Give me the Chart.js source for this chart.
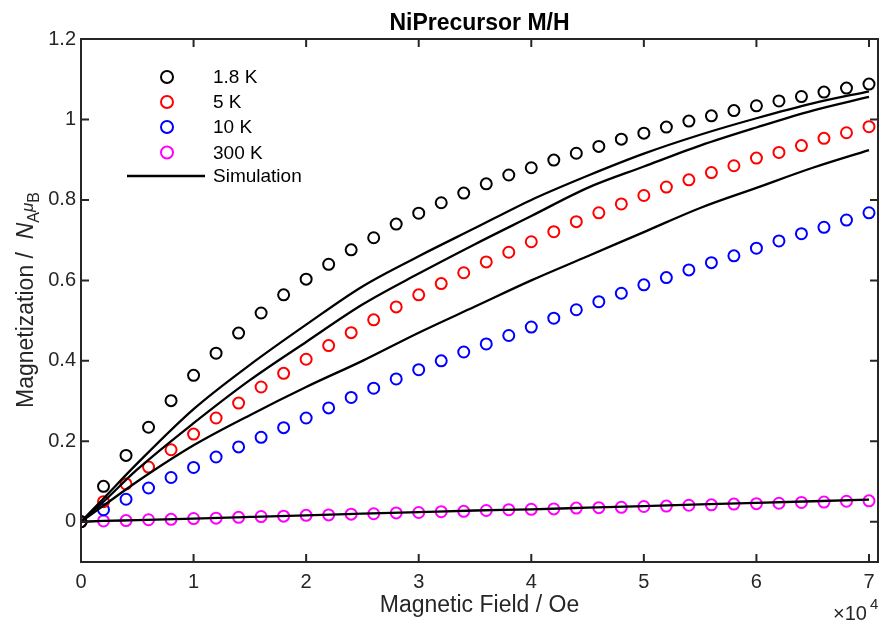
<!DOCTYPE html>
<html>
<head>
<meta charset="utf-8">
<script src="https://cdn.jsdelivr.net/npm/chart.js@4.4.1/dist/chart.umd.min.js"></script>
<style>
  html, body { margin: 0; padding: 0; background: #fff; }
  #wrap { width: 882px; height: 621px; }
</style>
</head>
<body>
<div id="wrap"><canvas id="mh" width="882" height="621"></canvas></div>
<script>
// measured field points (Oe)
const fieldOe = [0, 2000, 4000, 6000, 8000, 10000, 12000, 14000, 16000, 18000,
  20000, 22000, 24000, 26000, 28000, 30000, 32000, 34000, 36000, 38000,
  40000, 42000, 44000, 46000, 48000, 50000, 52000, 54000, 56000, 58000,
  60000, 62000, 64000, 66000, 68000, 70000];

// magnetization (N_A muB)
const m18K = [0, 0.088, 0.165, 0.235, 0.301, 0.364, 0.419, 0.469, 0.519, 0.564,
  0.603, 0.640, 0.676, 0.706, 0.740, 0.767, 0.793, 0.817, 0.840, 0.862,
  0.880, 0.899, 0.916, 0.933, 0.951, 0.966, 0.981, 0.996, 1.009, 1.022,
  1.034, 1.046, 1.057, 1.068, 1.078, 1.088];
const m5K = [0, 0.050, 0.094, 0.136, 0.179, 0.218, 0.258, 0.295, 0.335, 0.369,
  0.404, 0.438, 0.470, 0.502, 0.534, 0.564, 0.592, 0.619, 0.646, 0.670,
  0.696, 0.721, 0.746, 0.768, 0.790, 0.811, 0.832, 0.850, 0.868, 0.885,
  0.904, 0.918, 0.935, 0.953, 0.967, 0.982];
const m10K = [0, 0.030, 0.056, 0.084, 0.110, 0.135, 0.161, 0.186, 0.210, 0.234,
  0.258, 0.283, 0.309, 0.332, 0.355, 0.378, 0.400, 0.422, 0.442, 0.463,
  0.484, 0.506, 0.527, 0.547, 0.568, 0.589, 0.607, 0.626, 0.644, 0.661,
  0.680, 0.698, 0.716, 0.732, 0.750, 0.768];
const m300K = [0, 0.002, 0.003, 0.005, 0.006, 0.008, 0.009, 0.011, 0.013, 0.014,
  0.016, 0.017, 0.019, 0.020, 0.022, 0.023, 0.025, 0.026, 0.028, 0.030,
  0.031, 0.032, 0.034, 0.035, 0.036, 0.038, 0.039, 0.041, 0.042, 0.044,
  0.045, 0.046, 0.048, 0.049, 0.051, 0.052];

// simulation curves
const simField = [0, 2000, 5000, 10000, 15000, 20000, 25000, 30000, 35000,
  40000, 45000, 50000, 55000, 60000, 65000, 70000];
const sim18K = [0, 0.058, 0.145, 0.280, 0.390, 0.490, 0.585, 0.660, 0.730,
  0.800, 0.860, 0.915, 0.962, 1.003, 1.040, 1.070];
const sim5K = [0, 0.050, 0.130, 0.245, 0.352, 0.447, 0.540, 0.617, 0.690,
  0.760, 0.830, 0.883, 0.935, 0.980, 1.022, 1.056];
const sim10K = [0, 0.040, 0.100, 0.190, 0.265, 0.335, 0.400, 0.470, 0.535,
  0.600, 0.660, 0.720, 0.780, 0.830, 0.880, 0.924];
const sim300K = [0, 0.002, 0.004, 0.008, 0.012, 0.016, 0.020, 0.024, 0.028,
  0.031, 0.035, 0.039, 0.043, 0.047, 0.051, 0.055];

const xTicks = [0, 10000, 20000, 30000, 40000, 50000, 60000, 70000];
const yTicks = [0, 0.2, 0.4, 0.6, 0.8, 1, 1.2];

const legendNames = ['1.8 K', '5 K', '10 K', '300 K'];
const colors = ['#000000', '#ff0000', '#0000ff', '#ff00ff'];

const FONT = 'Liberation Sans, Arial, Helvetica, sans-serif';
const AXIS_COLOR = '#262626';

const toPts = (xs, ys) => xs.map((x, i) => ({ x: x, y: ys[i] }));

const simSets = [sim18K, sim5K, sim10K, sim300K].map(ys => ({
  type: 'line',
  label: 'Simulation',
  data: toPts(simField, ys),
  borderColor: '#000',
  borderWidth: 2.3,
  pointRadius: 0,
  fill: false,
  cubicInterpolationMode: 'monotone',
  order: 0
}));

const dataSets = [m18K, m5K, m10K, m300K].map((ys, i) => ({
  type: 'scatter',
  label: legendNames[i],
  data: toPts(fieldOe, ys),
  borderColor: colors[i],
  backgroundColor: 'rgba(0,0,0,0)',
  borderWidth: 2,
  pointRadius: 5.5,
  pointStyle: 'circle',
  order: i === 0 ? 1 : 2 + i
}));

// box, inward ticks, titles, legend
const decor = {
  id: 'decor',
  afterDraw(chart) {
    const ctx = chart.ctx;
    const a = chart.chartArea;
    const xs = chart.scales.x, ys = chart.scales.y;
    ctx.save();
    ctx.strokeStyle = AXIS_COLOR;
    ctx.lineWidth = 2;
    ctx.strokeRect(a.left, a.top, a.right - a.left, a.bottom - a.top);
    const tl = 8;
    ctx.beginPath();
    xTicks.forEach(v => {
      const px = xs.getPixelForValue(v);
      ctx.moveTo(px, a.bottom); ctx.lineTo(px, a.bottom - tl);
      ctx.moveTo(px, a.top); ctx.lineTo(px, a.top + tl);
    });
    yTicks.forEach(v => {
      const py = ys.getPixelForValue(v);
      ctx.moveTo(a.left, py); ctx.lineTo(a.left + tl, py);
      ctx.moveTo(a.right, py); ctx.lineTo(a.right - tl, py);
    });
    ctx.stroke();

    // title
    ctx.fillStyle = '#000';
    ctx.textAlign = 'center';
    ctx.textBaseline = 'middle';
    ctx.font = 'bold 23px ' + FONT;
    ctx.fillText('NiPrecursor M/H', (a.left + a.right) / 2, 24);

    // x label
    ctx.fillStyle = AXIS_COLOR;
    ctx.font = '23px ' + FONT;
    ctx.fillText('Magnetic Field / Oe', (a.left + a.right) / 2, 606);

    // x10^4
    ctx.textAlign = 'left';
    ctx.textBaseline = 'alphabetic';
    ctx.font = '20px ' + FONT;
    ctx.fillText('\u00d710', 833, 620);
    ctx.font = '15px ' + FONT;
    ctx.fillText('4', 870, 609);

    // y label, rotated
    ctx.save();
    ctx.translate(33, 300);
    ctx.rotate(-Math.PI / 2);
    const parts = [
      { t: 'Magnetization /  ', f: '23px ' + FONT, dy: 0 },
      { t: 'N', f: 'italic 23px ' + FONT, dy: 0 },
      { t: 'A', f: '16px ' + FONT, dy: 6 },
      { t: '\u03bc', f: 'italic 17px ' + FONT, dy: 0 },
      { t: 'B', f: '16px ' + FONT, dy: 6 }
    ];
    let w = 0;
    parts.forEach(p => { ctx.font = p.f; p.w = ctx.measureText(p.t).width; w += p.w; });
    let u = -w / 2;
    ctx.textAlign = 'left';
    parts.forEach(p => { ctx.font = p.f; ctx.fillText(p.t, u, p.dy); u += p.w; });
    ctx.restore();

    // legend inside the axes
    const rowY = [77, 102, 127, 152.5];
    ctx.font = '19px ' + FONT;
    ctx.textBaseline = 'middle';
    legendNames.forEach((name, i) => {
      ctx.beginPath();
      ctx.strokeStyle = colors[i];
      ctx.lineWidth = 2;
      ctx.arc(167, rowY[i], 6, 0, Math.PI * 2);
      ctx.stroke();
      ctx.fillStyle = '#000';
      ctx.fillText(name, 213, rowY[i] + 1);
    });
    ctx.beginPath();
    ctx.strokeStyle = '#000';
    ctx.lineWidth = 2.3;
    ctx.moveTo(127, 176); ctx.lineTo(205, 176);
    ctx.stroke();
    ctx.fillText('Simulation', 213, 177);
    ctx.restore();
  }
};

new Chart(document.getElementById('mh'), {
  type: 'scatter',
  data: { datasets: simSets.concat(dataSets) },
  options: {
    responsive: false,
    animation: false,
    layout: { autoPadding: false, padding: { top: 39, right: 4, left: 0, bottom: 0 } },
    plugins: { legend: { display: false }, tooltip: { enabled: false } },
    scales: {
      x: {
        type: 'linear',
        min: 0,
        max: 70800,
        grid: { display: false, drawTicks: false },
        border: { display: false },
        afterBuildTicks: s => { s.ticks = xTicks.map(v => ({ value: v })); },
        afterFit: s => { s.height = 59; s.paddingLeft = 0; s.paddingRight = 0; },
        ticks: {
          color: AXIS_COLOR,
          font: { family: FONT, size: 20 },
          padding: 8,
          maxRotation: 0,
          callback: v => String(v / 10000)
        }
      },
      y: {
        type: 'linear',
        min: -0.1,
        max: 1.2,
        grid: { display: false, drawTicks: false },
        border: { display: false },
        afterBuildTicks: s => { s.ticks = yTicks.map(v => ({ value: v })); },
        afterFit: s => { s.width = 81; s.paddingTop = 0; s.paddingBottom = 0; },
        ticks: {
          color: AXIS_COLOR,
          font: { family: FONT, size: 20 },
          padding: 5,
          callback: v => String(+v.toFixed(1))
        }
      }
    }
  },
  plugins: [decor]
});
</script>
</body>
</html>
